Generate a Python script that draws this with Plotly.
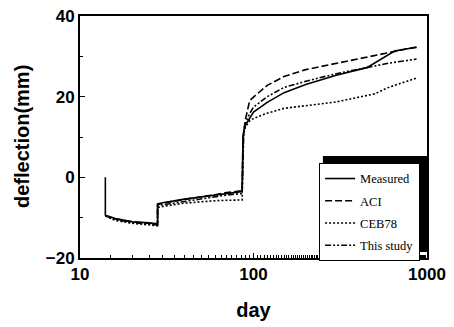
import plotly.graph_objects as go

# Measured
meas_x = [14, 14, 16, 20, 25, 28, 28, 30, 40, 50, 60, 70, 86, 87, 88, 90, 95, 100, 120, 150, 200, 300, 450, 600, 650, 750, 870]
meas_y = [0, -9.4, -10.2, -11.0, -11.3, -11.5, -6.6, -6.3, -5.4, -4.8, -4.3, -3.9, -3.5, 9.5, 11.5, 13.0, 14.8, 16.2, 18.6, 21.0, 23.0, 25.3, 27.2, 30.5, 31.3, 31.8, 32.2]

# ACI
aci_x = [14, 16, 20, 25, 28, 28, 30, 40, 50, 60, 70, 86, 87, 88, 90, 95, 100, 120, 150, 200, 300, 500, 700, 870]
aci_y = [-9.5, -10.3, -11.0, -11.4, -11.6, -6.8, -6.4, -5.5, -4.9, -4.3, -3.8, -3.3, 10.0, 12.0, 14.5, 19.0, 19.9, 22.8, 25.0, 26.7, 28.3, 30.3, 31.5, 32.3]

# CEB78
ceb_x = [14, 16, 20, 25, 28, 28, 30, 40, 50, 60, 70, 86, 87, 88, 90, 95, 100, 120, 150, 200, 300, 500, 540, 600, 870]
ceb_y = [-9.6, -10.7, -11.4, -11.8, -12.0, -7.5, -7.2, -6.4, -6.0, -5.8, -5.7, -5.6, 9.5, 11.0, 12.5, 14.0, 14.6, 15.9, 17.1, 17.8, 18.7, 20.7, 21.4, 22.3, 24.6]

# This study
this_x = [14, 16, 20, 25, 28, 28, 30, 40, 50, 60, 70, 86, 87, 88, 90, 95, 100, 120, 150, 200, 300, 450, 600, 870]
this_y = [-9.5, -10.5, -11.2, -11.5, -11.8, -7.0, -6.8, -5.9, -5.3, -4.8, -4.4, -4.0, 9.8, 12.0, 13.5, 15.8, 17.4, 20.0, 22.3, 23.8, 25.7, 27.2, 28.3, 29.3]

x_ticks = [10, 100, 1000]
y_ticks = [-20, 0, 20, 40]

series = [
    ("Measured", meas_x, meas_y, "solid"),
    ("ACI", aci_x, aci_y, "7px,3px"),
    ("CEB78", ceb_x, ceb_y, "2px,2px"),
    ("This study", this_x, this_y, "6px,2px,2px,2px,2px,2px"),
]

fig = go.Figure()
for name, xs, ys, dash in series:
    fig.add_trace(go.Scatter(x=xs, y=ys, mode="lines", name=name, legendgroup=name,
                             line=dict(color="black", width=1.6, dash=dash)))

tick_font = dict(family="Liberation Sans", size=17, color="black", weight="bold")
title_font = dict(family="Liberation Sans", size=20, color="black", weight="bold")

axis_common = dict(showline=True, linecolor="black", linewidth=1.8, mirror=True,
                   ticks="inside", ticklen=5, tickcolor="black", showgrid=False,
                   zeroline=False, tickfont=tick_font, automargin=False)

fig.update_xaxes(type="log", range=[1, 3], tickvals=x_ticks, ticktext=[str(v) for v in x_ticks],
                 title=dict(text="day", font=title_font, standoff=20),
                 minor=dict(ticks="inside", ticklen=3, tickcolor="black", showgrid=False),
                 **axis_common)
fig.update_yaxes(range=[-20, 40], tickvals=y_ticks,
                 minor=dict(ticks="inside", ticklen=3, tickcolor="black", dtick=10, showgrid=False),
                 **axis_common)

# y-axis title placed as rotated text
fig.add_annotation(text="deflection(mm)", textangle=-90, xref="paper", yref="paper",
                   x=-0.167, y=0.5, xanchor="center", yanchor="middle",
                   showarrow=False, font=title_font)

# legend shadow (decoration)
fig.add_shape(type="rect", xref="paper", yref="paper", x0=0.700, x1=1.003, y0=0.025, y1=0.421,
              fillcolor="black", line=dict(width=0), layer="above")

fig.update_layout(
    width=454, height=327,
    margin=dict(l=80, r=27, t=16, b=69, autoexpand=False),
    plot_bgcolor="white", paper_bgcolor="white",
    legend=dict(x=0.689, y=-0.012, xanchor="left", yanchor="bottom",
                bgcolor="white", bordercolor="black", borderwidth=1,
                font=dict(family="Liberation Serif", size=12.5, color="black"),
                itemwidth=30, tracegroupgap=3),
    showlegend=True,
)

fig.write_html("out.html")
